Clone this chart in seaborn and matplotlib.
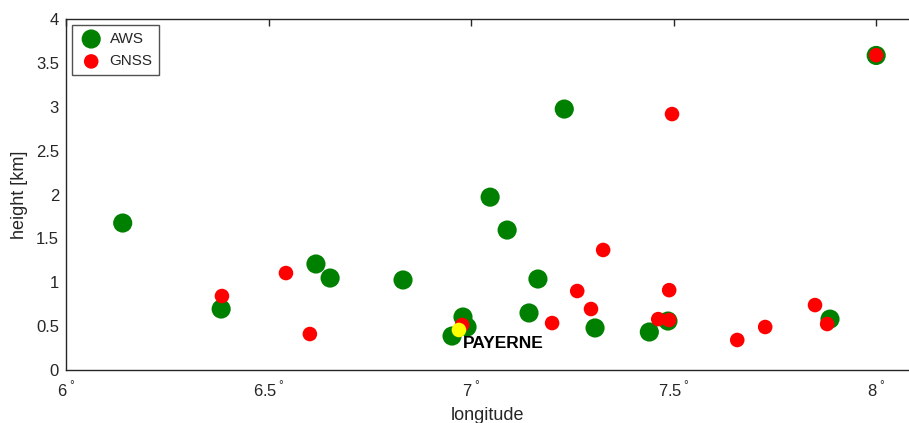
import matplotlib
matplotlib.use("Agg")
import matplotlib.pyplot as plt
import pandas as pd
import seaborn as sns

aws_lon = [6.14, 6.383, 6.617, 6.652, 6.832, 6.953, 6.98, 6.99, 7.047, 7.089,
           7.143, 7.165, 7.23, 7.306, 7.44, 7.486, 7.886, 8.0]
aws_h = [1.675, 0.695, 1.208, 1.048, 1.026, 0.387, 0.604, 0.49, 1.97, 1.595,
         0.65, 1.037, 2.974, 0.479, 0.433, 0.558, 0.58, 3.585]

gnss_lon = [6.385, 6.543, 6.602, 6.978, 7.2, 7.262, 7.296, 7.326, 7.462, 7.489,
            7.489, 7.496, 7.657, 7.726, 7.849, 7.879, 8.0]
gnss_h = [0.843, 1.105, 0.41, 0.513, 0.535, 0.9, 0.695, 1.368, 0.58, 0.57,
          0.91, 2.917, 0.342, 0.49, 0.74, 0.524, 3.588]

payerne_lon = [6.97]
payerne_h = [0.456]

xticks = [6, 6.5, 7, 7.5, 8]
xtick_labels = ["6$\\,^{\\mathrm{°}}$", "6.5$\\,^{\\mathrm{°}}$", "7$\\,^{\\mathrm{°}}$",
                "7.5$\\,^{\\mathrm{°}}$", "8$\\,^{\\mathrm{°}}$"]
yticks = [0, 0.5, 1, 1.5, 2, 2.5, 3, 3.5, 4]
ytick_labels = ["0", "0.5", "1", "1.5", "2", "2.5", "3", "3.5", "4"]

sns.set_style("white")
plt.rcParams["font.family"] = ["Liberation Sans", "DejaVu Sans"]
plt.rcParams["mathtext.fontset"] = "custom"
plt.rcParams["mathtext.rm"] = "Liberation Sans"

df_aws = pd.DataFrame({"lon": aws_lon, "h": aws_h})
df_gnss = pd.DataFrame({"lon": gnss_lon, "h": gnss_h})
df_pay = pd.DataFrame({"lon": payerne_lon, "h": payerne_h})

fig = plt.figure(figsize=(9.09, 4.23), dpi=100)
ax = fig.add_axes([0.0726, 0.1253, 0.9274, 0.8297])

sns.scatterplot(data=df_aws, x="lon", y="h", s=190, color="#008000",
                edgecolor="none", label="AWS", ax=ax, zorder=3)
sns.scatterplot(data=df_gnss, x="lon", y="h", s=110, color="#ff0000",
                edgecolor="none", label="GNSS", ax=ax, zorder=4)
sns.scatterplot(data=df_pay, x="lon", y="h", s=110, color="#ffff00",
                edgecolor="none", legend=False, ax=ax, zorder=5)
ax.text(6.98, 0.25, "PAYERNE", fontsize=12.5, fontweight="bold", color="black",
        ha="left", va="baseline", zorder=6)

ax.set_xlim(6, 8.081)
ax.set_ylim(0, 4)
ax.set_xticks(xticks)
ax.set_xticklabels(xtick_labels)
ax.set_yticks(yticks)
ax.set_yticklabels(ytick_labels)
ax.tick_params(direction="in", length=5, width=1, colors="#262626",
               labelsize=12, top=True, right=False)
ax.tick_params(axis="x", pad=7.5)
ax.tick_params(axis="y", pad=5)
for side in ["left", "bottom", "top"]:
    ax.spines[side].set_visible(True)
    ax.spines[side].set_color("#262626")
    ax.spines[side].set_linewidth(1)
ax.spines["right"].set_visible(False)

ax.set_xlabel("longitude", fontsize=13, color="#262626", labelpad=4.5)
ax.set_ylabel("height [km]", fontsize=13, color="#262626", labelpad=6)

leg = ax.legend(loc="upper left", frameon=True, fancybox=False, fontsize=11,
                edgecolor="#262626", borderpad=0.45, handletextpad=0.4,
                handlelength=1.6, labelspacing=0.55, borderaxespad=0.4)
leg.get_frame().set_linewidth(1)

fig.savefig("out.png", dpi=100)
